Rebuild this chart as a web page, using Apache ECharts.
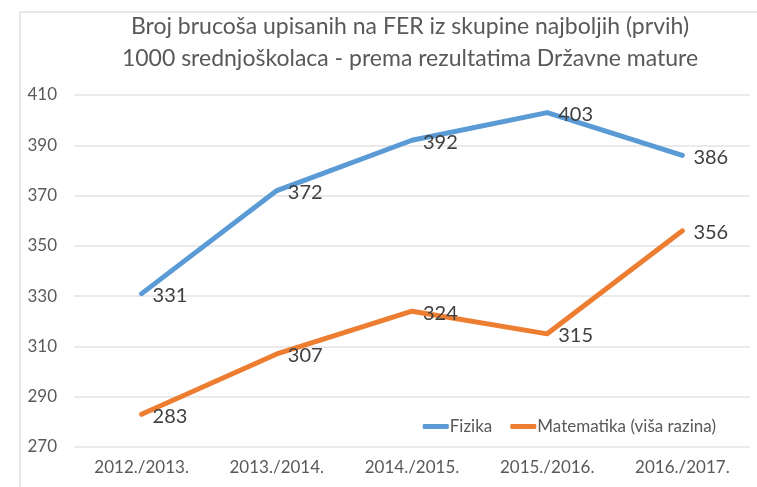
<!DOCTYPE html>
<html>
<head>
<meta charset="utf-8">
<script src="https://cdn.jsdelivr.net/npm/echarts@6/dist/echarts.min.js"></script>
<style>
  html, body { margin: 0; padding: 0; background: #fff; }
  #chart { width: 757px; height: 487px; }
</style>
</head>
<body>
<div id="chart"></div>
<script>
  // podaci s grafa
  var godine = ['2012./2013.', '2013./2014.', '2014./2015.', '2015./2016.', '2016./2017.'];
  var fizika = [331, 372, 392, 403, 386];
  var matematika = [283, 307, 324, 315, 356];
  var yMin = 270, yMax = 410, yStep = 20;

  var font = 'Lato, "Open Sans", sans-serif';
  var chart = echarts.init(document.getElementById('chart'));

  function labelStyle() {
    return {
      show: true,
      position: 'right',
      distance: 11,
      offset: [0, 2],
      fontFamily: font,
      fontSize: 20,
      color: '#404040'
    };
  }

  var option = {
    backgroundColor: '#fff',
    animation: false,
    color: ['#5B9BD5', '#ED7D31'],
    title: {
      text: 'Broj brucoša upisanih na FER iz skupine najboljih (prvih)\n1000 srednjoškolaca - prema rezultatima Državne mature',
      left: 405,
      textAlign: 'center',
      top: 6,
      textStyle: {
        fontFamily: font,
        fontWeight: 'normal',
        fontSize: 23,
        lineHeight: 32,
        color: '#595959'
      }
    },
    graphic: [{
      type: 'rect',
      shape: { x: 20, y: 12, width: 800, height: 520 },
      style: { fill: 'none', stroke: '#c9d1d1', lineWidth: 1 },
      silent: true,
      z: -1
    }],
    legend: {
      data: ['Fizika', 'Matematika (viša razina)'],
      right: 36,
      top: 413,
      icon: 'roundRect',
      itemWidth: 26,
      itemHeight: 5,
      itemGap: 18,
      textStyle: { fontFamily: font, fontSize: 17, color: '#595959', padding: [0, 0, 0, -4] }
    },
    grid: {
      left: 74,
      right: 7,
      top: 95,
      bottom: 40
    },
    xAxis: {
      type: 'category',
      data: godine,
      boundaryGap: true,
      axisLine: { show: false },
      axisTick: { show: false },
      axisLabel: {
        fontFamily: font,
        fontSize: 17,
        color: '#595959',
        margin: 12
      }
    },
    yAxis: {
      type: 'value',
      min: yMin,
      max: yMax,
      interval: yStep,
      axisLine: { show: false },
      axisTick: { show: false },
      splitLine: { lineStyle: { color: '#e3e3e3', width: 1.5 } },
      axisLabel: {
        fontFamily: font,
        fontSize: 17,
        color: '#595959',
        margin: 17
      }
    },
    series: [
      {
        name: 'Fizika',
        type: 'line',
        data: fizika,
        symbol: 'circle',
        symbolSize: 0,
        lineStyle: { width: 5, cap: 'round', join: 'round' },
        label: labelStyle()
      },
      {
        name: 'Matematika (viša razina)',
        type: 'line',
        data: matematika,
        symbol: 'circle',
        symbolSize: 0,
        lineStyle: { width: 5, cap: 'round', join: 'round' },
        label: labelStyle()
      }
    ]
  };

  chart.setOption(option);
</script>
</body>
</html>
